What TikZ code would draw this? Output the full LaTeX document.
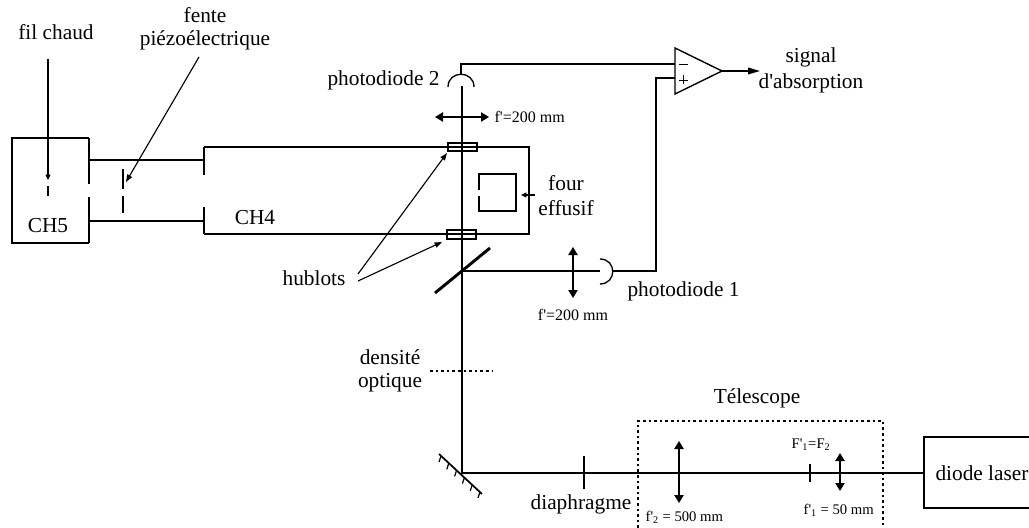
\documentclass[tikz,border=0pt]{standalone}
\usepackage{fontspec}
\setmainfont[Ligatures=TeXOff]{Liberation Serif}
\usetikzlibrary{arrows.meta,calc}
\tikzset{
  x=0.75pt,y=-0.75pt,
  every path/.style={line width=0.95pt,line cap=butt},
  lab/.style={inner sep=0pt,font=\fontsize{16}{18}\selectfont,align=center},
  small/.style={inner sep=0pt,font=\fontsize{12}{14}\selectfont,align=center},
  tiny/.style={inner sep=0pt,font=\fontsize{11}{13}\selectfont,align=center},
  wall/.style={line width=1.5pt},
  thick beam/.style={line width=1.25pt},
  lens/.style={line width=1pt,{Triangle[width=7pt,length=6pt]}-{Triangle[width=7pt,length=6pt]}},
  ptr/.style={line width=0.85pt,-{Triangle[width=4pt,length=5.5pt]}},
  shortptr/.style={line width=0.85pt,-{Triangle[width=3.6pt,length=4pt]}},
  slit/.style={line width=0.95pt},
  dots/.style={line width=0.9pt,dash pattern=on 2pt off 2.2pt},
}
\begin{document}
\begin{tikzpicture}
\useasboundingbox (0,0) rectangle (1029,528);
% named anchors
\coordinate (fA) at (48,59);   \coordinate (fB) at (48,180);
\coordinate (pA) at (199,57);  \coordinate (pB) at (126,182);
\coordinate (pd2) at (461,74); \coordinate (pd1) at (613,271);
\coordinate (beamTop) at (462,86);
\coordinate (split) at (462,271);
\coordinate (mir) at (462,473);
\coordinate (laser) at (924,473);
\coordinate (ampM) at (675,64); \coordinate (ampP) at (675,78);
\coordinate (ampO) at (722,71); \coordinate (sig) at (760,71);
\coordinate (bend1) at (656,271); \coordinate (bend2) at (656,78);
\coordinate (bend3) at (461,64);
\coordinate (hu) at (358,274); \coordinate (hl) at (358,281);
\coordinate (hwu) at (447,153); \coordinate (hwl) at (442,242);
\coordinate (fo) at (535,195); \coordinate (foe) at (521,195);
% CH5
\draw (89,138) -- (12,138) -- (12,243) -- (89,243);
\draw[wall] (89,138) -- (89,184) (89,197) -- (89,243);
\draw (89,160) -- (204,160) (89,221) -- (204,221);
% CH4
\draw (204,147) -- (529,147) -- (529,234) -- (204,234);
\draw[wall] (204,147) -- (204,175) (204,207) -- (204,234);
\draw[slit] (123,169) -- (123,189) (123,196) -- (123,213);
\draw[slit] (48,186) -- (48,196);
\draw[shortptr] (fA) -- (fB);
\draw[ptr] (pA) -- (pB);
% four
\draw (479,190) -- (479,174) -- (516,174) -- (516,211) -- (479,211) -- (479,196);
\draw[shortptr] (fo) -- (foe);
% windows
\draw[fill=none] (448,143) rectangle (477,151);
\draw[fill=none] (447,230) rectangle (476,239);
\draw[ptr] (hu) -- (hwu);
\draw[ptr] (hl) -- (hwl);
% beams
\draw[thick beam] (beamTop) -- (mir) -- (laser);
\draw (split) -- (600,271);
% mirrors
\draw[line width=2.2pt] (435,293) -- (490,248);
\draw[line width=1.3pt] (439,454) -- (482,494);
\foreach \t in {0,0.2,0.4,0.6,0.8,1}{
  \draw[line width=0.9pt] ($(441,456)!\t!(480,492)$) -- ++(-2,6);
}
% photodiodes
\draw[line width=1pt] (448,87) .. controls (448,70) and (474,70) .. (474,87);
\draw[line width=1pt] (600,259) .. controls (617,259) and (617,284) .. (600,284);
\draw (pd2) -- (bend3) -- (ampM);
\draw (pd1) -- (bend1) -- (bend2) -- (ampP);
% amplifier
\draw[line width=1.05pt] (675,48) -- (675,94) -- (ampO) -- cycle;
\draw[line width=0.7pt] (679,64) -- (688,64);
\draw[line width=0.7pt] (679,80) -- (688,80) (683.5,75.5) -- (683.5,84.5);
\draw[line width=1.1pt,-{Triangle[width=5pt,length=9pt]}] (ampO) -- (sig);
% lenses
\draw[lens] (435,117) -- (489,117);
\draw[lens] (573,247) -- (573,298);
\draw[lens] (679,441) -- (679,503);
\draw[lens] (840,453) -- (840,491);
% diaphragm, focal mark
\draw (584,456) -- (584,489);
\draw (810,464) -- (810,482);
% dotted
\draw[dots] (430,371) -- (493,371);
\draw[dots] (638,528) -- (638,421) -- (883,421) -- (883,528);
% laser
\draw (1029,437) -- (924,437) -- (924,508) -- (1029,508);
% labels
\node[lab] (t1) at (56,32) {fil chaud};
\node[lab] (t2) at (205,15) {fente};
\node[lab] (t3) at (205,40) {piézoélectrique};
\node[lab] (t4) at (48,226) {CH5};
\node[lab] (t5) at (255,218) {CH4};
\node[lab] (t6) at (383.5,80) {photodiode 2};
\node[small,anchor=west] (t7) at (494,117) {f'=200 mm};
\node[lab] (t8) at (566,183) {four};
\node[lab] (t9) at (566,208) {effusif};
\node[lab] (t10) at (314,278) {hublots};
\node[lab] (t11) at (811,57) {signal};
\node[lab] (t12) at (811,83) {d'absorption};
\node[lab] (t13) at (683.5,291) {photodiode 1};
\node[small] (t14) at (573,315) {f'=200 mm};
\node[lab] (t15) at (390,357) {densité};
\node[lab] (t16) at (390,383) {optique};
\node[lab] (t17) at (581,504) {diaphragme};
\node[lab] (t18) at (757,398) {Télescope};
\node[tiny,anchor=west] (t19) at (645,517) {f'\textsubscript{2} = 500 mm};
\node[tiny,anchor=west] (t20) at (791,445) {F'\textsubscript{1}=F\textsubscript{2}};
\node[tiny,anchor=west] (t21) at (803,510) {f'\textsubscript{1} = 50 mm};
\node[lab] (t22) at (982,473) {diode laser};
\end{tikzpicture}
\end{document}
